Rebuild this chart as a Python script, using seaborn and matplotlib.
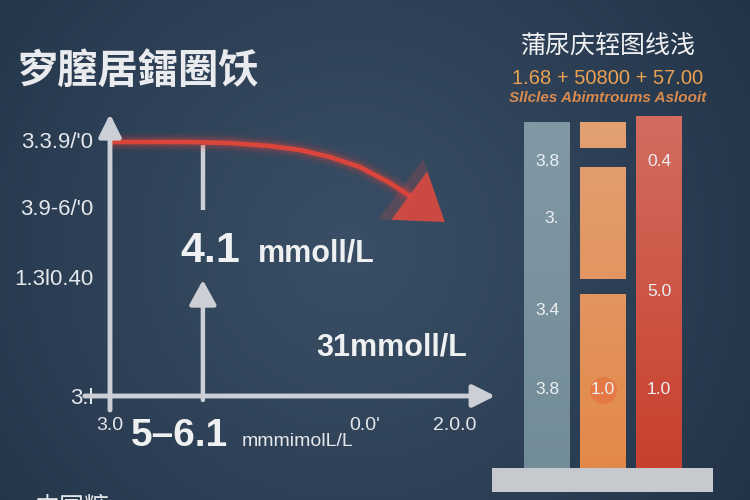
import numpy as np
import pandas as pd
import seaborn as sns
import matplotlib.pyplot as plt
from matplotlib.colors import LinearSegmentedColormap

# ---- data ----
title_left = "穸膣居鐳圈饫"
title_right = "蒲尿庆轾图线浅"
subtitle_nums = "1.68 + 50800 + 57.00"
subtitle_txt = "Sllcles Abimtroums Aslooit"

# left chart: red curve
curve_x = [0, 1.11, 2.22, 3.33, 4.44, 5.28, 6.11, 6.94, 7.78, 8.33]
curve_y = [6.35, 6.35, 6.35, 6.325, 6.25, 6.15, 5.975, 5.725, 5.325, 5.0]
arrow_tip = (9.3, 4.35)

ytick_vals = [0, 2.975, 4.725, 6.4]
ytick_labels = ["3.l", "1.3l0.40", "3.9-6/'0", "3.3.9/'0"]
xtick_vals = [0, 2.58, 7.08, 9.58]
xtick_labels = ["3.0", "", "0.0'", "2.0.0"]
marker_x = 2.58
upper_seg = (6.275, 4.65)
lower_seg = (-0.1, 2.9)

# right chart: stacked segments
seg_bar = [0, 1, 1, 1, 2]
seg_bottom = [0, 0, 5.28, 8.94, 0]
seg_top = [9.66, 4.86, 8.41, 9.66, 9.83]

label_bar = [0, 0, 0, 0, 1, 2, 2, 2]
label_y = [8.55, 6.98, 4.39, 2.18, 2.18, 8.55, 4.94, 2.18]
label_txt = ["3.8", "3.", "3.4", "3.8", "1.0", "0.4", "5.0", "1.0"]

bar_colors = {0: ("#728c98", "#8199a4"), 1: ("#e3894a", "#e2a173"), 2: ("#c8402e", "#d36d60")}

sns.set_theme(style="dark")
plt.rcParams['font.family'] = ['Liberation Sans', 'Noto Sans CJK SC', 'DejaVu Sans']

W, H = 750, 500
fig = plt.figure(figsize=(7.5, 5), dpi=100)


def px(x, y):
    return x / W, 1 - y / H


# background gradient
bg = fig.add_axes([0, 0, 1, 1])
yy, xx = np.mgrid[0:1:200j, 0:1.5:300j]
r = np.sqrt((xx - 0.7) ** 2 + (yy - 0.5) ** 2)
r = np.clip(r / 0.95, 0, 1)
c_in = np.array([0x3a, 0x4f, 0x66]) / 255
c_out = np.array([0x23, 0x34, 0x48]) / 255
img = c_in[None, None, :] * (1 - r[..., None]) + c_out[None, None, :] * r[..., None]
bg.imshow(img, extent=[0, 1, 0, 1], aspect='auto')
bg.axis('off')

axis_col = "#ccd0d6"
text_col = "#e4e7eb"

# ---- left chart ----
ax = fig.add_axes([110 / W, (H - 396) / H, 360 / W, 280 / H])
ax.set_facecolor("none")
ax.set_xlim(0, 10)
ax.set_ylim(0, 7)
for s in ax.spines.values():
    s.set_visible(False)
ax.grid(False)

ax.set_yticks(ytick_vals)
ax.set_yticklabels(ytick_labels)
ax.set_xticks(xtick_vals)
ax.set_xticklabels(xtick_labels)
ax.tick_params(axis='both', colors=axis_col, length=7, width=3, direction='out',
               labelcolor=text_col, pad=5)
ax.tick_params(axis='y', labelsize=16)
ax.tick_params(axis='x', labelsize=14, pad=8)

# axis lines with arrows
ax.annotate("", xy=(0, 7.05), xytext=(0, -0.35), xycoords='data', annotation_clip=False,
            arrowprops=dict(arrowstyle='-|>,head_length=0.9,head_width=0.45', lw=3.5,
                            color=axis_col, shrinkA=0, shrinkB=0, mutation_scale=15))
ax.annotate("", xy=(10.7, 0), xytext=(-0.7, 0), xycoords='data', annotation_clip=False,
            arrowprops=dict(arrowstyle='-|>,head_length=0.9,head_width=0.45', lw=3.5,
                            color=axis_col, shrinkA=0, shrinkB=0, mutation_scale=15))

# vertical marker lines
ax.plot([marker_x, marker_x], upper_seg, color=axis_col, lw=3.2, solid_capstyle='butt')
ax.annotate("", xy=(marker_x, lower_seg[1]), xytext=(marker_x, lower_seg[0]),
            annotation_clip=False,
            arrowprops=dict(arrowstyle='-|>,head_length=1.0,head_width=0.55', lw=3.2,
                            color=axis_col, shrinkA=0, shrinkB=0, mutation_scale=15))

# red curve with glow
curve = pd.DataFrame({"x": curve_x, "y": curve_y})
for lw, a in [(14, 0.06), (10, 0.1), (7, 0.18)]:
    ax.plot(curve["x"], curve["y"], color="#e0453c", lw=lw, alpha=a, solid_capstyle='round')
sns.lineplot(data=curve, x="x", y="y", sort=False, color="#d9443b", lw=3.4, ax=ax)
for ms, a in [(36, 0.2), (29, 0.85)]:
    ax.annotate("", xy=arrow_tip, xytext=(curve_x[-1], curve_y[-1]), annotation_clip=False,
                arrowprops=dict(arrowstyle='-|>,head_length=1.1,head_width=0.75', lw=0,
                                color="#df4a40", alpha=a, shrinkA=0, shrinkB=0,
                                mutation_scale=ms))
ax.set_xlabel("")
ax.set_ylabel("")

# ---- texts on left chart ----
fig.text(*px(18, 72), title_left, fontsize=29, fontweight='bold', color="#e9ebee",
         family=['Noto Sans CJK SC', 'DejaVu Sans'], va='center', ha='left')
fig.text(*px(180, 262), "4.1", fontsize=31, fontweight='bold', color="#eef0f2", va='baseline')
fig.text(*px(258, 262), "mmoll/L", fontsize=22, fontweight='bold', color="#eef0f2", va='baseline')
fig.text(*px(316, 356), "31mmoll/L", fontsize=22, fontweight='bold', color="#eef0f2", va='baseline')
fig.text(*px(131, 446), "5–6.1", fontsize=28, fontweight='bold', color="#eef0f2", va='baseline')
fig.text(*px(242, 446), "mmmimolL/L", fontsize=14, color="#e4e7eb", va='baseline')
# partly cut text at the bottom edge, as in the picture
fig.text(*px(35, 515), "中国糖", fontsize=18, color="#e4e7eb", va='baseline',
         family=['Noto Sans CJK SC', 'DejaVu Sans'])

# ---- right chart ----
bx = fig.add_axes([492 / W, (H - 492) / H, 221 / W, (492 - 110) / H])
bx.set_facecolor("none")
for s in bx.spines.values():
    s.set_visible(False)
bx.grid(False)
bx.set_xticks([])
bx.set_yticks([])
ylo, yhi = -24 / 35.8, (468 - 110) / 35.8
xlo, xhi = 1 - 111 / 56, 1 + 110 / 56
bx.axhspan(ylo, 0, color="#c6cacf", lw=0, zorder=1)

for b, lo, hi in zip(seg_bar, seg_bottom, seg_top):
    bottom_c, top_c = bar_colors[b]
    patch = bx.bar(b, hi - lo, bottom=lo, width=46 / 56, color=bottom_c,
                   edgecolor='none', linewidth=0, zorder=2)[0]
    cmap = LinearSegmentedColormap.from_list("g", [bottom_c, top_c])
    im = bx.imshow(np.linspace(lo / 10, hi / 10, 128).reshape(-1, 1),
                   extent=[b - 0.41, b + 0.41, lo, hi], origin='lower', aspect='auto',
                   cmap=cmap, vmin=0, vmax=1, zorder=2.5)
    im.set_clip_path(patch)

# glow behind the orange 1.0
bx.scatter([1], [2.18], s=380, color="#e8653a", alpha=0.5, lw=0, zorder=3)
for b, yv, t in zip(label_bar, label_y, label_txt):
    off = 0.08 if t == "3." else 0
    bx.text(b + off, yv, t, ha='center', va='center', fontsize=12.5, color="#eceff2", zorder=4)

bx.set_xlim(xlo, xhi)
bx.set_ylim(ylo, yhi)

fig.text(*px(608, 47), title_right, fontsize=18, color="#eef0f2", ha='center', va='center',
         family=['Noto Sans CJK SC', 'DejaVu Sans'])
fig.text(*px(608, 78), subtitle_nums, fontsize=14.5, color="#eaa252", ha='center', va='center')
fig.text(*px(608, 98), subtitle_txt, fontsize=11, color="#d98a4e", ha='center', va='center',
         style='italic', fontweight='bold')

fig.savefig("out.png", dpi=100)
